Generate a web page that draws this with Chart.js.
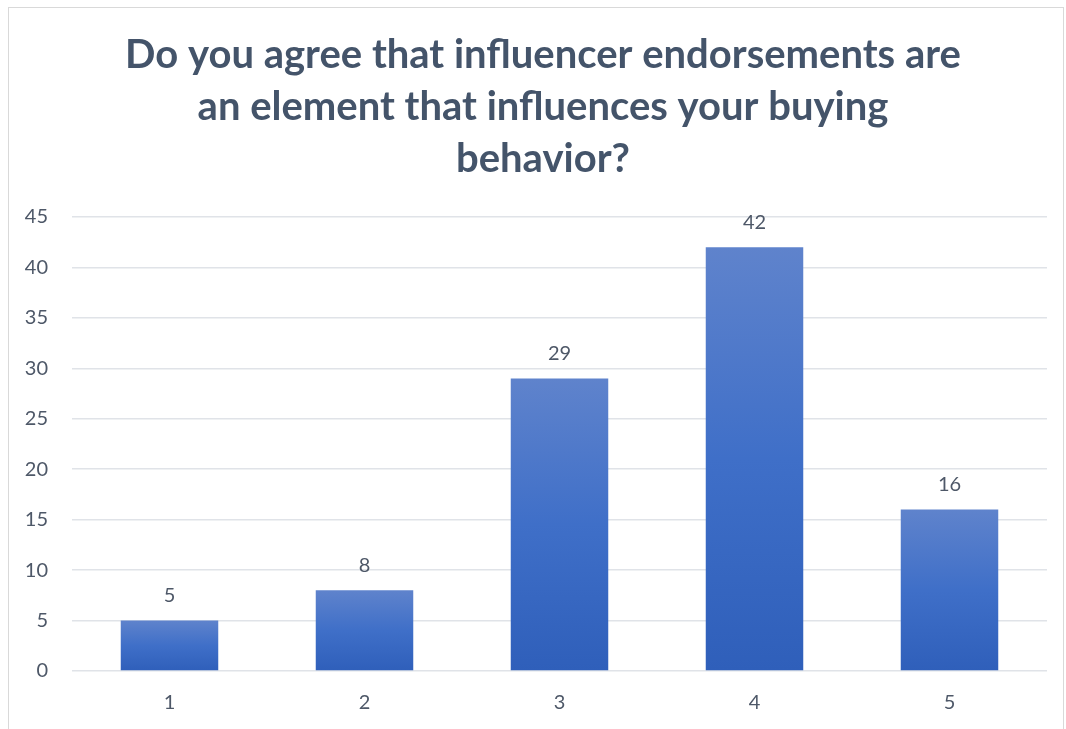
<!DOCTYPE html>
<html>
<head>
<meta charset="utf-8">
<script src="https://cdn.jsdelivr.net/npm/chart.js@4/dist/chart.umd.min.js"></script>
<style>
  html, body { margin: 0; padding: 0; background: #ffffff; }
  #wrap { position: relative; width: 1066px; height: 729px; }
</style>
</head>
<body>
<div id="wrap"><canvas id="chart" width="1066" height="729"></canvas></div>
<script>
// Survey answers on a 1–5 agreement scale and how many respondents chose each
const categories = ['1', '2', '3', '4', '5'];
const responses = [5, 8, 29, 42, 16];
const titleLines = [
  'Do you agree that influencer endorsements are',
  'an element that influences your buying',
  'behavior?'
];

const textColor = '#4e5868';
const titleColor = '#44546a';
const gridColor = '#e0e3e8';
const fontFamily = 'Lato, "Open Sans", sans-serif';

// Vertical gradient for each bar, lighter at the top
function barGradient(ctx) {
  const chart = ctx.chart;
  if (!chart.chartArea || ctx.parsed === undefined) return '#4472c4';
  const y = chart.scales.y;
  const top = y.getPixelForValue(ctx.parsed.y);
  const base = y.getPixelForValue(0);
  if (!isFinite(top) || !isFinite(base) || top === base) return '#4472c4';
  const g = chart.ctx.createLinearGradient(0, top, 0, base);
  g.addColorStop(0, '#5f83cc');
  g.addColorStop(0.5, '#3f6fc8');
  g.addColorStop(1, '#2f5fba');
  return g;
}

// Outer frame around the whole chart
const framePlugin = {
  id: 'frame',
  beforeDraw(chart) {
    const c = chart.ctx;
    c.save();
    c.fillStyle = '#ffffff';
    c.fillRect(0, 0, chart.width, chart.height);
    c.strokeStyle = '#d9d9d9';
    c.lineWidth = 1;
    c.strokeRect(8.5, 7.5, 1055, 740);
    c.restore();
  }
};

// Value labels above each bar
const valueLabels = {
  id: 'valueLabels',
  afterDatasetsDraw(chart) {
    const c = chart.ctx;
    const meta = chart.getDatasetMeta(0);
    c.save();
    c.font = '20px ' + fontFamily;
    c.fillStyle = textColor;
    c.textAlign = 'center';
    c.textBaseline = 'middle';
    meta.data.forEach((bar, i) => {
      c.fillText(String(responses[i]), bar.x, bar.y - 25);
    });
    c.restore();
  }
};

new Chart(document.getElementById('chart'), {
  type: 'bar',
  data: {
    labels: categories,
    datasets: [{
      data: responses,
      backgroundColor: barGradient,
      borderWidth: 0,
      categoryPercentage: 0.5,
      barPercentage: 1.0
    }]
  },
  options: {
    responsive: false,
    animation: false,
    layout: { padding: { left: 20, right: 0, top: 0, bottom: 0 } },
    plugins: {
      legend: { display: false },
      tooltip: { enabled: false },
      title: {
        display: true,
        text: titleLines,
        color: titleColor,
        font: { family: fontFamily, size: 40, weight: 'bold', lineHeight: 1.3 },
        padding: { top: 29, bottom: 32 }
      }
    },
    scales: {
      x: {
        afterFit(scale) { scale.height = 58; },
        grid: { display: false, drawTicks: false },
        border: { display: false },
        ticks: { color: textColor, font: { family: fontFamily, size: 20 }, padding: 20 }
      },
      y: {
        min: 0,
        max: 45,
        afterFit(scale) { scale.width = 52; },
        grid: { color: gridColor, lineWidth: 1.5, drawTicks: false },
        border: { display: false },
        ticks: { stepSize: 5, color: textColor, font: { family: fontFamily, size: 20 }, padding: 24 }
      },
      // empty margin on the right of the plot
      yRight: {
        position: 'right',
        min: 0,
        max: 45,
        afterFit(scale) { scale.width = 19; },
        grid: { display: false, drawTicks: false },
        border: { display: false },
        ticks: { display: false }
      }
    }
  },
  plugins: [framePlugin, valueLabels]
});
</script>
</body>
</html>
